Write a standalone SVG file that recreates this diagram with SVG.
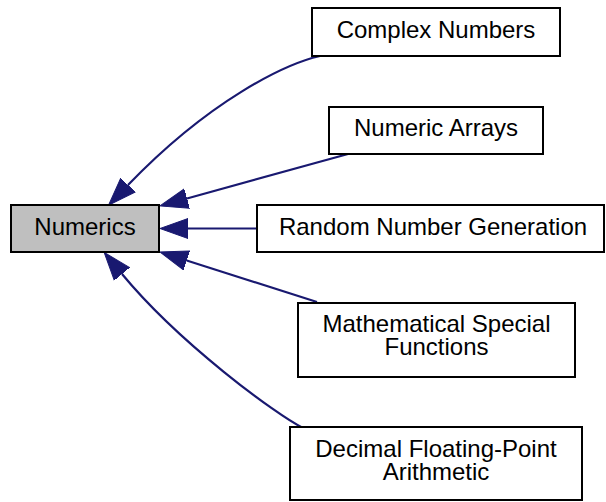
<svg xmlns="http://www.w3.org/2000/svg" width="606" height="502" viewBox="0 0 606 502">
<style>
.box{fill:#ffffff;stroke:#000000;stroke-width:2}
.cur{fill:#bfbfbf;stroke:#000000;stroke-width:2}
.lbl{font-family:"Liberation Sans",Arial,sans-serif;font-size:24px;fill:#000000;text-anchor:middle}
.edge{fill:none;stroke:#191970;stroke-width:2.2}
</style>
<defs>
<marker id="arr" markerUnits="userSpaceOnUse" markerWidth="29" markerHeight="22" viewBox="0 0 29 22" refX="0" refY="11" orient="auto">
<path d="M0,1 L28,11 L0,21 z" fill="#191970" stroke="#191970" stroke-width="1"/>
</marker>
</defs>
<rect width="606" height="502" fill="#ffffff"/>
<g id="connectors">
<path class="edge" marker-end="url(#arr)" d="M320,56 C285,64 210,100 128,185"/>
<path class="edge" marker-end="url(#arr)" d="M348,154 L187,198.5"/>
<path class="edge" marker-end="url(#arr)" d="M257,228.5 L188,228.5"/>
<path class="edge" marker-end="url(#arr)" d="M317,302 L186.7,260.5"/>
<path class="edge" marker-end="url(#arr)" d="M303,428 C276,414.5 179,343 122,274"/>
</g>
<g id="node-numerics">
<rect class="cur" x="11" y="205" width="148" height="47"/>
<text class="lbl" x="85" y="234.5">Numerics</text>
</g>
<g id="node-complex">
<rect class="box" x="312" y="8" width="248" height="48"/>
<text class="lbl" x="436" y="37.5">Complex Numbers</text>
</g>
<g id="node-arrays">
<rect class="box" x="329" y="107" width="214" height="47"/>
<text class="lbl" x="436" y="136">Numeric Arrays</text>
</g>
<g id="node-random">
<rect class="box" x="257" y="205" width="347" height="47"/>
<text class="lbl" x="433" y="235">Random Number Generation</text>
</g>
<g id="node-special">
<rect class="box" x="298" y="303" width="277" height="74"/>
<text class="lbl" x="436.5" y="332">Mathematical Special<tspan x="436.5" dy="23">Functions</tspan></text>
</g>
<g id="node-decimal">
<rect class="box" x="290" y="427" width="292" height="73"/>
<text class="lbl" x="436" y="457">Decimal Floating-Point<tspan x="436" dy="23">Arithmetic</tspan></text>
</g>
</svg>
